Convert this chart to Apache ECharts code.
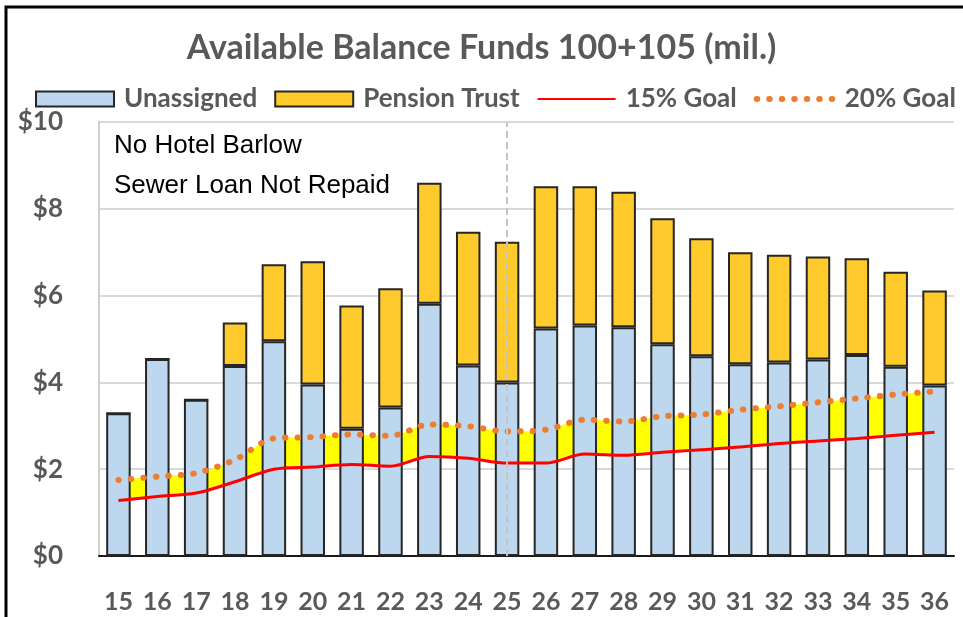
<!DOCTYPE html>
<html>
<head>
<meta charset="utf-8">
<script src="https://cdn.jsdelivr.net/npm/echarts@6/dist/echarts.min.js"></script>
<style>
  html, body { margin: 0; padding: 0; background: #fff; }
  #main { width: 963px; height: 617px; }
</style>
</head>
<body>
<div id="main"></div>
<script>
// fiscal years
const years = ['15', '16', '17', '18', '19', '20', '21', '22', '23', '24', '25',
  '26', '27', '28', '29', '30', '31', '32', '33', '34', '35', '36'];
// millions of dollars
const unassigned = [3.29, 4.54, 3.60, 4.38, 4.95, 3.95, 2.93, 3.42, 5.81, 4.39, 4.00,
  5.24, 5.31, 5.27, 4.88, 4.60, 4.42, 4.46, 4.53, 4.63, 4.36, 3.93];
const pensionTrust = [0, 0, 0, 1.00, 1.77, 2.84, 2.84, 2.75, 2.79, 3.08, 3.24,
  3.28, 3.21, 3.12, 2.90, 2.72, 2.58, 2.48, 2.37, 2.23, 2.19, 2.19];
const goal15 = [1.28, 1.37, 1.45, 1.71, 2.00, 2.05, 2.11, 2.07, 2.29, 2.25, 2.14,
  2.14, 2.35, 2.32, 2.39, 2.45, 2.51, 2.59, 2.65, 2.71, 2.78, 2.85];
const goal20 = [1.75, 1.83, 1.91, 2.22, 2.71, 2.74, 2.80, 2.77, 3.03, 2.99, 2.87,
  2.91, 3.14, 3.10, 3.22, 3.26, 3.37, 3.45, 3.54, 3.63, 3.72, 3.79];
const markerYear = '25';
const yTicks = { min: 0, max: 10, interval: 2 };

const gap = goal20.map((v, i) => +(v - goal15[i]).toFixed(2));

const chart = echarts.init(document.getElementById('main'));
const fontFam = 'Lato, "Liberation Sans", sans-serif';
const grey = '#595959';
const dotStyle = { color: '#ED7D31', width: 6, type: [0.5, 12], cap: 'round' };

chart.setOption({
  animation: false,
  title: {
    text: 'Available Balance Funds 100+105 (mil.)',
    left: 'center',
    top: 26,
    textStyle: { fontFamily: fontFam, fontSize: 34, fontWeight: 'bold', color: grey }
  },
  legend: {
    data: [
      { name: 'Unassigned', icon: 'rect' },
      { name: 'Pension Trust', icon: 'rect' },
      { name: '15% Goal', itemStyle: { opacity: 0 } },
      { name: '20% Goal', itemStyle: { opacity: 0 }, lineStyle: dotStyle }
    ],
    left: 30,
    top: 81,
    itemWidth: 78,
    itemHeight: 15,
    itemGap: 17,
    textStyle: { fontFamily: fontFam, fontSize: 26, fontWeight: 'bold', color: grey, padding: [0, 0, 0, 5] }
  },
  grid: { left: 99, right: 9, top: 122, bottom: 61, containLabel: false },
  xAxis: {
    type: 'category',
    data: years,
    axisLine: { lineStyle: { color: '#1a1a1a', width: 2 } },
    axisTick: { show: false },
    axisLabel: { margin: 33, fontFamily: fontFam, fontSize: 25, fontWeight: 'bold', color: grey }
  },
  yAxis: {
    type: 'value',
    min: yTicks.min,
    max: yTicks.max,
    interval: yTicks.interval,
    axisLine: { show: true, lineStyle: { color: '#cfcfcf', width: 2 } },
    axisTick: { show: false },
    splitLine: { lineStyle: { color: '#d9d9d9', width: 2 } },
    axisLabel: { margin: 36, formatter: '${value}', fontFamily: fontFam, fontSize: 26, fontWeight: 'bold', color: grey }
  },
  graphic: [
    {
      type: 'rect',
      shape: { x: 6, y: 7, width: 1000, height: 700 },
      style: { fill: 'none', stroke: '#000', lineWidth: 3 },
      silent: true
    },
    {
      type: 'text',
      left: 114,
      top: 126,
      style: {
        text: 'No Hotel Barlow\nSewer Loan Not Repaid',
        fontFamily: '"Liberation Sans", Arial, sans-serif',
        fontSize: 26,
        lineHeight: 40,
        fill: '#000'
      },
      z: 10
    }
  ],
  series: [
    {
      name: 'base',
      type: 'line',
      stack: 'goal',
      data: goal15,
      smooth: 0.3,
      symbol: 'none',
      lineStyle: { width: 0 },
      areaStyle: { opacity: 0 },
      z: 1,
      silent: true
    },
    {
      name: 'band',
      type: 'line',
      stack: 'goal',
      data: gap,
      smooth: 0.3,
      symbol: 'none',
      lineStyle: { width: 0 },
      areaStyle: { color: '#FFFF00', opacity: 1 },
      z: 1,
      silent: true
    },
    {
      name: 'Unassigned',
      type: 'bar',
      stack: 'funds',
      data: unassigned,
      barWidth: '63%',
      itemStyle: { color: '#BDD7EE', borderColor: '#262626', borderWidth: 2 },
      z: 2,
      markLine: {
        silent: true,
        symbol: 'none',
        label: { show: false },
        lineStyle: { color: '#c4c4c4', type: [7, 4], width: 2 },
        data: [{ xAxis: markerYear }]
      }
    },
    {
      name: 'Pension Trust',
      type: 'bar',
      stack: 'funds',
      data: pensionTrust,
      barWidth: '63%',
      itemStyle: { color: '#FFCA2C', borderColor: '#262626', borderWidth: 2 },
      z: 2
    },
    {
      name: '15% Goal',
      type: 'line',
      data: goal15,
      smooth: 0.3,
      symbol: 'none',
      itemStyle: { color: '#FF0000' },
      lineStyle: { color: '#FF0000', width: 3 },
      z: 4
    },
    {
      name: '20% Goal',
      type: 'line',
      data: goal20,
      smooth: 0.3,
      symbol: 'none',
      itemStyle: { color: '#ED7D31' },
      lineStyle: dotStyle,
      z: 4
    }
  ]
});
</script>
</body>
</html>
